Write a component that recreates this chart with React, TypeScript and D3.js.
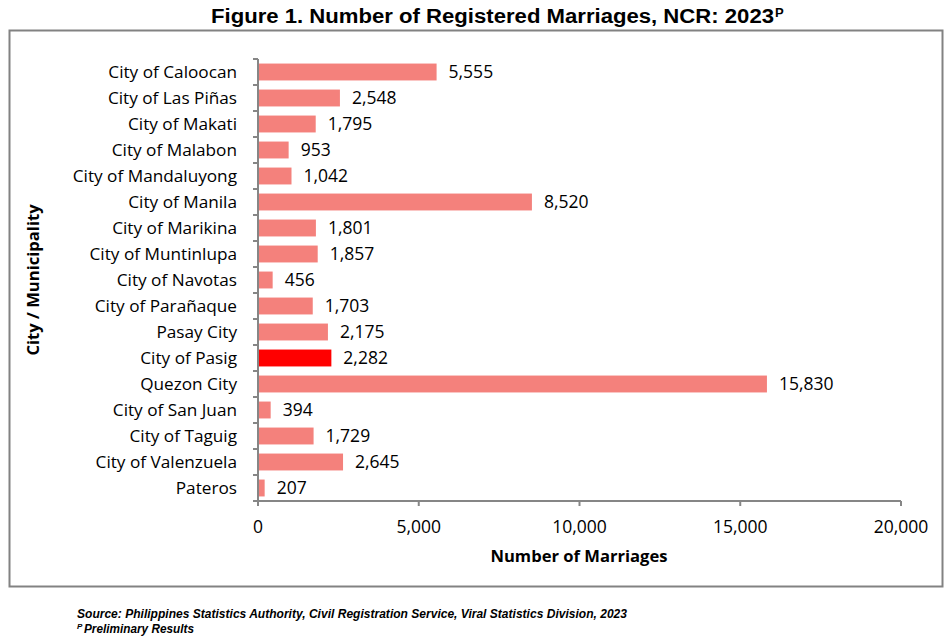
import React from "react";
import * as d3 from "d3";

const cities = [
  "City of Caloocan", "City of Las Piñas", "City of Makati", "City of Malabon",
  "City of Mandaluyong", "City of Manila", "City of Marikina", "City of Muntinlupa",
  "City of Navotas", "City of Parañaque", "Pasay City", "City of Pasig",
  "Quezon City", "City of San Juan", "City of Taguig", "City of Valenzuela", "Pateros",
];
const marriages = [5555, 2548, 1795, 953, 1042, 8520, 1801, 1857, 456, 1703, 2175, 2282, 15830, 394, 1729, 2645, 207];
const highlighted = ["City of Pasig"];
const xTicks = [0, 5000, 10000, 15000, 20000];

const W = 952, H = 639;
const left = 258, right = 901, top = 59, bottom = 501;
const labelFont = "'Open Sans', sans-serif";

export default function App() {
  const x = d3.scaleLinear().domain([0, 20000]).range([left, right]);
  const y = d3.scaleBand<string>().domain(cities).range([top, bottom]).paddingInner(0.35).paddingOuter(0.175);
  const fmt = d3.format(",");
  const step = (bottom - top) / cities.length;
  return (
    <svg width={W} height={H} style={{ position: "absolute", left: 0, top: 0 }}>
      <rect x={0} y={0} width={W} height={H} fill="#fff" />
      <text x={211} y={23} fontFamily="'Liberation Sans', Arial, sans-serif" fontWeight="bold" fontSize={20}
        textLength={563} lengthAdjust="spacingAndGlyphs">
        Figure 1. Number of Registered Marriages, NCR: 2023
      </text>
      <text x={775} y={17} fontFamily="'Liberation Sans', Arial, sans-serif" fontWeight="bold" fontSize={13}>P</text>
      <rect x={9.5} y={30.5} width={933} height={556} fill="none" stroke="#828282" strokeWidth={2} />
      {cities.map((c, i) => (
        <g key={c}>
          <rect x={x(0)} y={y(c)!} width={x(marriages[i]) - x(0)} height={y.bandwidth()}
            fill={highlighted.includes(c) ? "#FF0000" : "#F4817C"} />
          <text x={x(marriages[i]) + 12} y={y(c)! + y.bandwidth() / 2} dy="0.36em"
            fontFamily={labelFont} fontSize={17.5} fill="#000">{fmt(marriages[i])}</text>
          <text x={237} y={y(c)! + y.bandwidth() / 2} dy="0.36em" textAnchor="end"
            fontFamily={labelFont} fontSize={17.2} fill="#000">{c}</text>
        </g>
      ))}
      {/* y axis */}
      <line x1={left} x2={left} y1={top} y2={bottom} stroke="#868686" strokeWidth={2} />
      {d3.range(cities.length + 1).map((k) => (
        <line key={k} x1={left - 5} x2={left} y1={top + k * step} y2={top + k * step} stroke="#868686" strokeWidth={2} />
      ))}
      {/* x axis */}
      <line x1={left} x2={right} y1={bottom} y2={bottom} stroke="#868686" strokeWidth={2} />
      {xTicks.map((t) => (
        <g key={t}>
          <line x1={x(t)} x2={x(t)} y1={bottom} y2={bottom + 5} stroke="#868686" strokeWidth={2} />
          <text x={x(t)} y={527} dy="0.36em" textAnchor="middle" fontFamily={labelFont} fontSize={17.5}>{fmt(t)}</text>
        </g>
      ))}
      <text x={579} y={556} dy="0.35em" textAnchor="middle" fontFamily="'Open Sans', sans-serif" fontWeight="bold" fontSize={16.6}>
        Number of Marriages
      </text>
      <text transform={`translate(33,280) rotate(-90)`} dy="0.35em" textAnchor="middle" fontFamily="'Open Sans', sans-serif" fontWeight="bold" fontSize={16.6}>
        City / Municipality
      </text>
      <text x={77} y={618} fontFamily="'Liberation Sans', Arial, sans-serif" fontStyle="italic" fontWeight="bold" fontSize={12}
        textLength={550} lengthAdjust="spacingAndGlyphs">
        Source: Philippines Statistics Authority, Civil Registration Service, Viral Statistics Division, 2023
      </text>
      <text x={77} y={629} fontFamily="'Liberation Sans', Arial, sans-serif" fontStyle="italic" fontWeight="bold" fontSize={8}>P</text>
      <text x={84} y={633} fontFamily="'Liberation Sans', Arial, sans-serif" fontStyle="italic" fontWeight="bold" fontSize={12}
        textLength={110} lengthAdjust="spacingAndGlyphs">Preliminary Results</text>
    </svg>
  );
}
